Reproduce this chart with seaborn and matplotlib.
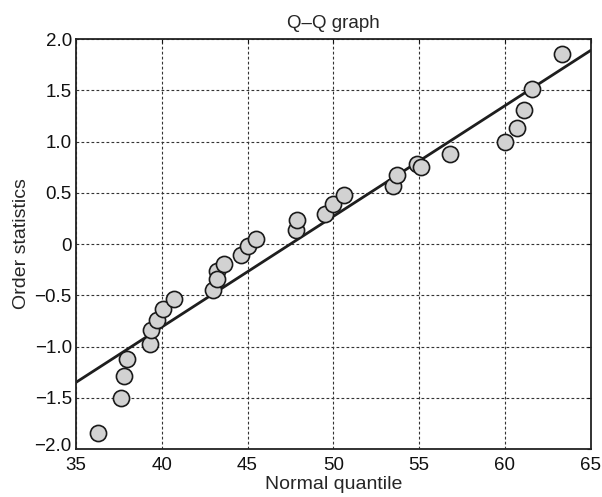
import matplotlib
matplotlib.use("Agg")
import matplotlib.pyplot as plt
import matplotlib.transforms as mtransforms
import seaborn as sns
import numpy as np
import pandas as pd

# valores
normal_quantile = [36.3, 37.6, 37.8, 38.0, 39.3, 39.4, 39.7, 40.1, 40.7,
                   43.0, 43.2, 43.2, 43.6, 44.6, 45.0, 45.5,
                   47.8, 47.9, 49.5, 50.0, 50.6, 53.5, 53.7, 54.9, 55.1,
                   56.8, 60.0, 60.7, 61.1, 61.6, 63.3]
order_stats = [-1.84, -1.50, -1.29, -1.12, -0.98, -0.84, -0.74, -0.63, -0.54,
               -0.45, -0.26, -0.34, -0.19, -0.11, -0.02, 0.05,
               0.14, 0.23, 0.29, 0.39, 0.48, 0.57, 0.67, 0.78, 0.75,
               0.88, 1.00, 1.13, 1.31, 1.51, 1.85]

# recta de referencia: y = (x - mu) / sigma
ref_mu = 47.5
ref_sigma = 9.26

x_ticks = [35, 40, 45, 50, 55, 60, 65]
y_ticks = [-2.0, -1.5, -1.0, -0.5, 0, 0.5, 1.0, 1.5, 2.0]
y_tick_labels = ['\u22122.0', '\u22121.5', '\u22121.0', '\u22120.5', '0',
                 '0.5', '1.0', '1.5', '2.0']

df = pd.DataFrame({'x': normal_quantile, 'y': order_stats})

sns.set_style('white')
plt.rcParams['font.family'] = ['Liberation Sans', 'DejaVu Sans']

fig = plt.figure(figsize=(6.02, 4.97), dpi=100)
ax = fig.add_axes([0.1262, 0.0966, 0.855, 0.8247])

line_x = np.array([x_ticks[0], x_ticks[-1]], dtype=float)
line_df = pd.DataFrame({'x': line_x, 'y': (line_x - ref_mu) / ref_sigma})
sns.lineplot(data=line_df, x='x', y='y', color='#1e1e1e', lw=2, ax=ax, zorder=2)

sns.scatterplot(data=df, x='x', y='y', s=135, color='#d2d2d2',
                edgecolor='#1a1a1a', linewidth=1.2, ax=ax, zorder=3)

ax.set_xlim(35, 65)
ax.set_ylim(-2.0, 2.0)
ax.set_xticks(x_ticks)
ax.set_yticks(y_ticks)
ax.set_yticklabels(y_tick_labels)
ax.grid(True, color='#333333', linestyle=(0, (2.5, 2)), linewidth=0.8)
ax.set_axisbelow(True)
ax.tick_params(direction='in', length=3, width=0.8, labelsize=13.5,
               top=True, right=True, colors='#111111')
ax.tick_params(axis='x', pad=6)
ax.tick_params(axis='y', pad=3)
# el -2.0 un poco hacia arriba, como en el original
lbl = ax.get_yticklabels()[0]
lbl.set_transform(lbl.get_transform() +
                  mtransforms.ScaledTranslation(0, 4 / 100, fig.dpi_scale_trans))
for s in ax.spines.values():
    s.set_color('#222222')
    s.set_linewidth(1.3)

ax.set_title('Q\u2013Q graph', fontsize=13.5, pad=8)
ax.set_xlabel('Normal quantile', fontsize=14, labelpad=1)
ax.set_ylabel('Order statistics', fontsize=14, labelpad=3)

fig.savefig('out.png', dpi=100)
